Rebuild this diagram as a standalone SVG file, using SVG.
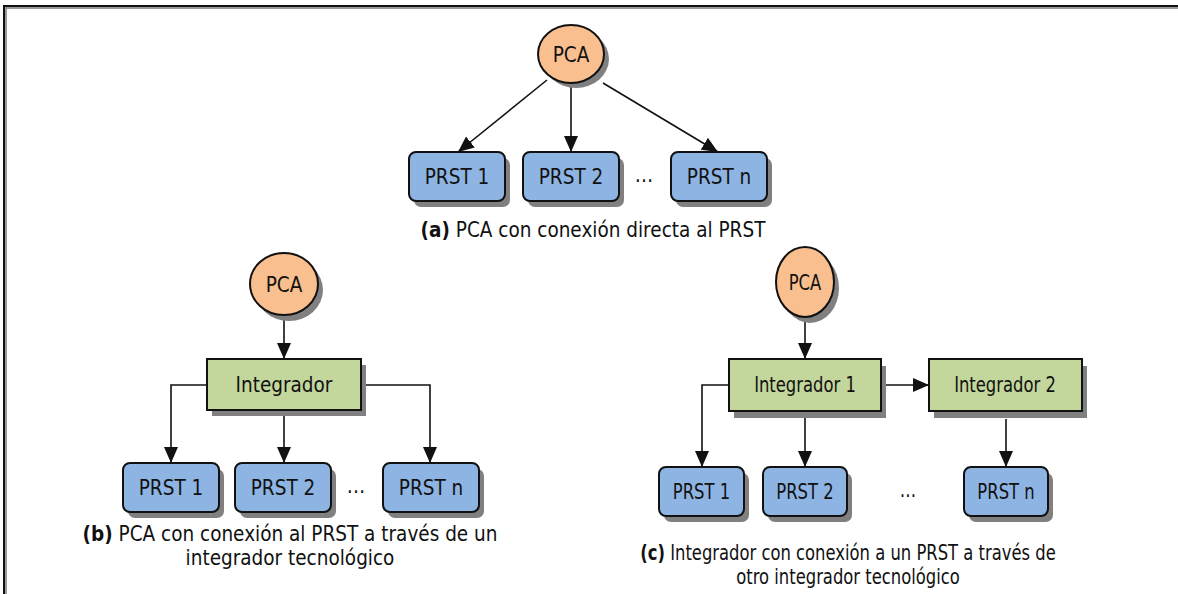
<svg xmlns="http://www.w3.org/2000/svg" width="1178" height="594" viewBox="0 0 1178 594">
<style>
text{font-family:"DejaVu Sans","Liberation Sans",sans-serif;fill:#111;font-size:20.5px;text-anchor:middle;}
.b{font-weight:bold;}
.sh{fill:#808080;stroke:none;}
.pca{fill:#F9BF8F;stroke:#111;stroke-width:2;}
.prst{fill:#8EB4E3;stroke:#111;stroke-width:2;}
.int{fill:#C3D69B;stroke:#111;stroke-width:2;}
.con{fill:none;stroke:#111;stroke-width:1.6;marker-end:url(#ah);}
</style>
<defs>
<marker id="ah" markerUnits="userSpaceOnUse" markerWidth="16" markerHeight="14" viewBox="0 0 16 14" refX="16" refY="7" orient="auto">
<path d="M0,0 L16,7 L0,14 Z" fill="#111"/>
</marker>
</defs>
<rect width="1178" height="594" fill="#fff"/>
<g id="frame">
<path d="M6,594 V8 H1178" fill="none" stroke="#999" stroke-width="2"/>
<path d="M4,594 V6 H1178" fill="none" stroke="#111" stroke-width="2"/>
</g>

<g id="connectors">
<path class="con" d="M547,80 L458,152"/>
<path class="con" d="M571,83 L571,152"/>
<path class="con" d="M603,83 L718,152"/>
<path class="con" d="M284,315 L284,359"/>
<path class="con" d="M207,385 H171 V463"/>
<path class="con" d="M284,410 V463"/>
<path class="con" d="M361,385 H430 V463"/>
<path class="con" d="M805,317 V359"/>
<path class="con" d="M881,385 H929"/>
<path class="con" d="M729,385 H702 V467"/>
<path class="con" d="M805,411 V467"/>
<path class="con" d="M1006,419 V467"/>
</g>

<!-- (a) -->
<g id="a-pca">
<ellipse class="sh" cx="576" cy="59" rx="33" ry="29"/>
<ellipse class="pca" cx="571" cy="54" rx="33" ry="29"/>
<text transform="translate(571,61.5) scale(0.9,1)">PCA</text>
</g>
<g id="a-prst1">
<rect class="sh" x="414" y="158" width="96" height="49" rx="7"/>
<rect class="prst" x="409" y="152" width="96" height="49" rx="7"/>
<text transform="translate(457,184) scale(0.9,1)">PRST 1</text>
</g>
<g id="a-prst2">
<rect class="sh" x="528" y="158" width="96" height="49" rx="7"/>
<rect class="prst" x="523" y="152" width="96" height="49" rx="7"/>
<text transform="translate(571,184) scale(0.9,1)">PRST 2</text>
</g>
<text transform="translate(644,182) scale(0.9,1)">…</text>
<g id="a-prstn">
<rect class="sh" x="676" y="158" width="96" height="49" rx="7"/>
<rect class="prst" x="671" y="152" width="96" height="49" rx="7"/>
<text transform="translate(719,184) scale(0.9,1)">PRST n</text>
</g>
<text transform="translate(593,237) scale(0.9,1)"><tspan class="b">(a)</tspan> PCA con conexión directa al PRST</text>

<!-- (b) -->
<g id="b-pca">
<ellipse class="sh" cx="289" cy="290" rx="34" ry="31"/>
<ellipse class="pca" cx="284" cy="284" rx="34" ry="31"/>
<text transform="translate(284,291.5) scale(0.9,1)">PCA</text>
</g>
<g id="b-int">
<rect class="sh" x="212" y="365" width="154" height="51"/>
<rect class="int" x="207" y="359" width="154" height="51"/>
<text transform="translate(284,392) scale(0.9,1)">Integrador</text>
</g>
<g id="b-prst1">
<rect class="sh" x="128" y="469" width="96" height="49" rx="7"/>
<rect class="prst" x="123" y="463" width="96" height="49" rx="7"/>
<text transform="translate(171,495) scale(0.9,1)">PRST 1</text>
</g>
<g id="b-prst2">
<rect class="sh" x="240" y="469" width="96" height="49" rx="7"/>
<rect class="prst" x="235" y="463" width="96" height="49" rx="7"/>
<text transform="translate(283,495) scale(0.9,1)">PRST 2</text>
</g>
<text transform="translate(356,493) scale(0.9,1)">…</text>
<g id="b-prstn">
<rect class="sh" x="388" y="469" width="96" height="49" rx="7"/>
<rect class="prst" x="383" y="463" width="96" height="49" rx="7"/>
<text transform="translate(431,495) scale(0.9,1)">PRST n</text>
</g>
<text transform="translate(290,541) scale(0.9,1)"><tspan class="b">(b)</tspan> PCA con conexión al PRST a través de un</text>
<text transform="translate(290,565) scale(0.9,1)">integrador tecnológico</text>

<!-- (c) -->
<g id="c-pca">
<ellipse class="sh" cx="810" cy="288" rx="29" ry="35"/>
<ellipse class="pca" cx="805" cy="282" rx="29" ry="35"/>
<text transform="translate(805,289.5) scale(0.8,1)">PCA</text>
</g>
<g id="c-int1">
<rect class="sh" x="734" y="366" width="152" height="52"/>
<rect class="int" x="729" y="359" width="152" height="52"/>
<text transform="translate(805,392) scale(0.8,1)">Integrador 1</text>
</g>
<g id="c-int2">
<rect class="sh" x="934" y="366" width="153" height="52"/>
<rect class="int" x="929" y="359" width="153" height="52"/>
<text transform="translate(1005,392) scale(0.8,1)">Integrador 2</text>
</g>
<g id="c-prst1">
<rect class="sh" x="664" y="473" width="85" height="49" rx="7"/>
<rect class="prst" x="659" y="467" width="85" height="49" rx="7"/>
<text transform="translate(701.5,499) scale(0.8,1)">PRST 1</text>
</g>
<g id="c-prst2">
<rect class="sh" x="768" y="473" width="84" height="49" rx="7"/>
<rect class="prst" x="763" y="467" width="84" height="49" rx="7"/>
<text transform="translate(805,499) scale(0.8,1)">PRST 2</text>
</g>
<text transform="translate(908,497) scale(0.8,1)">…</text>
<g id="c-prstn">
<rect class="sh" x="969" y="473" width="84" height="49" rx="7"/>
<rect class="prst" x="964" y="467" width="84" height="49" rx="7"/>
<text transform="translate(1006,499) scale(0.8,1)">PRST n</text>
</g>
<text transform="translate(848,560) scale(0.8,1)"><tspan class="b">(c)</tspan> Integrador con conexión a un PRST a través de</text>
<text transform="translate(848,584) scale(0.8,1)">otro integrador tecnológico</text>
</svg>
